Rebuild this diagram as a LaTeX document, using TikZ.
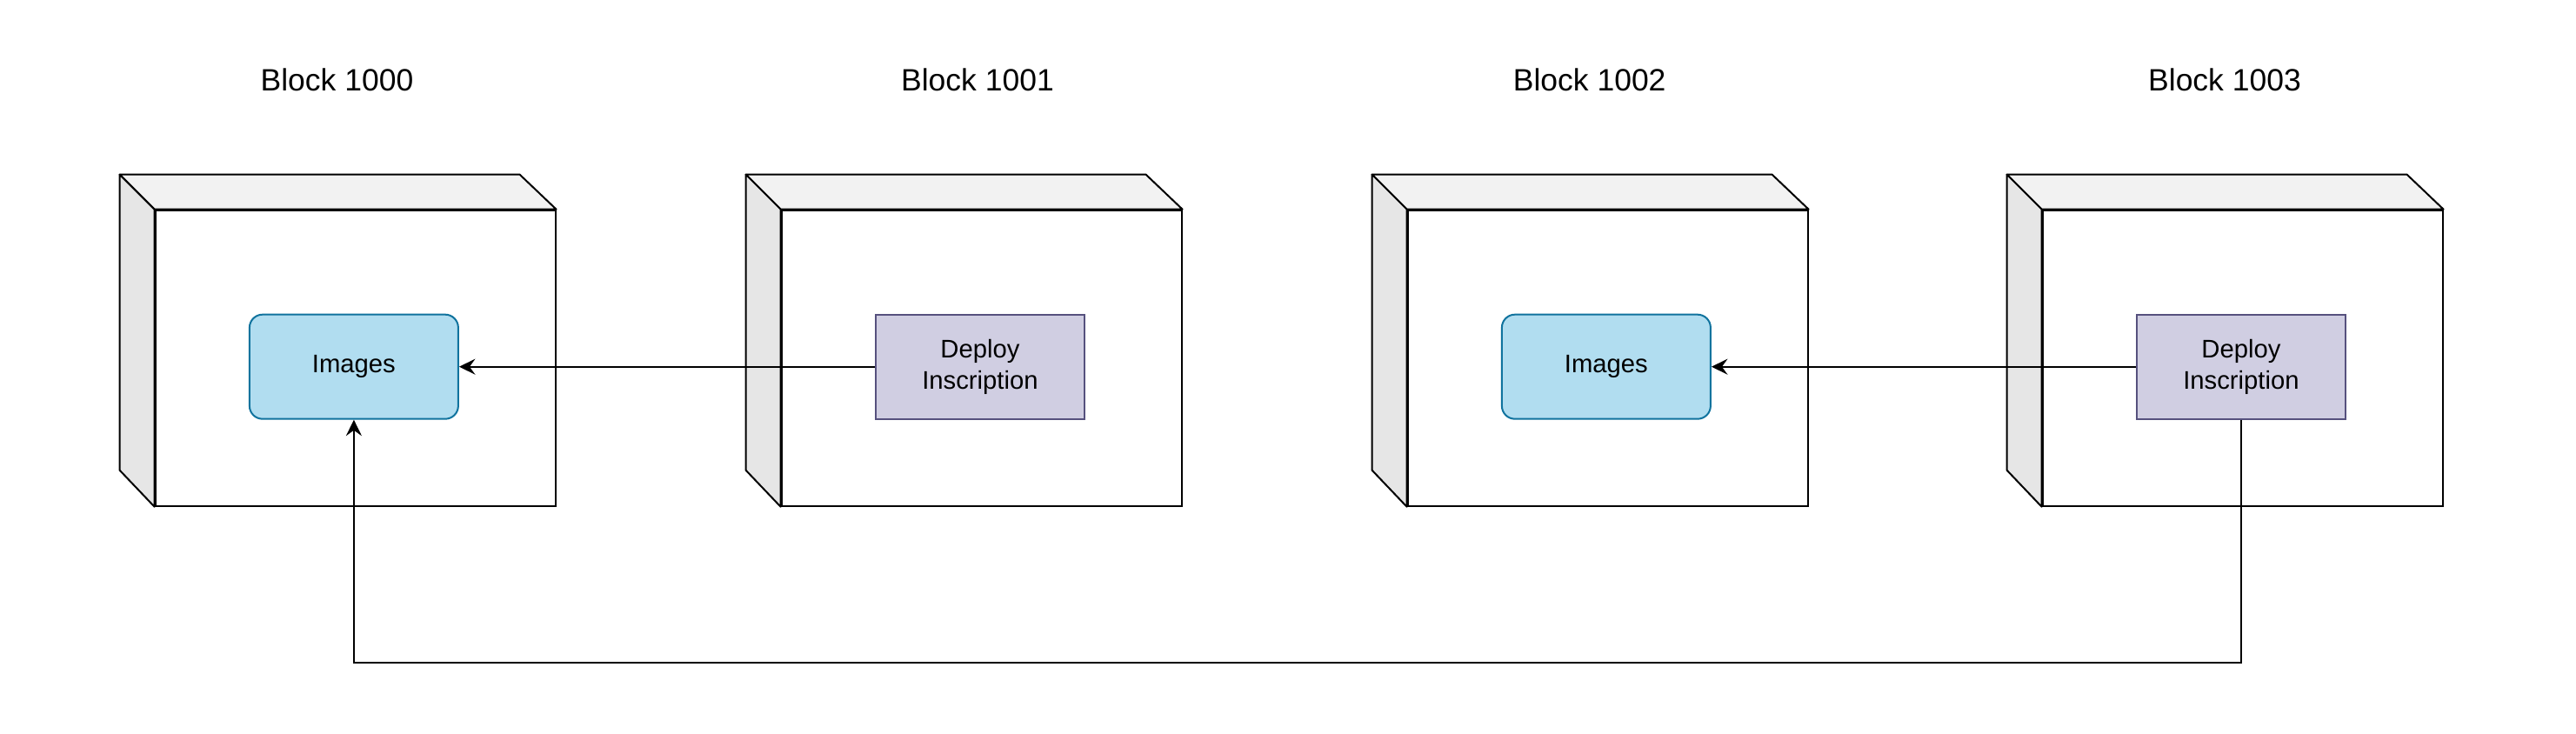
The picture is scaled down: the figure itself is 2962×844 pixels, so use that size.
\documentclass[tikz,border=0pt]{standalone}
\usepackage{fontspec}
\setmainfont{Liberation Sans}
\usepackage{xcolor}
\definecolor{imgfill}{RGB}{177,221,240}
\definecolor{imgdraw}{RGB}{16,115,158}
\definecolor{depfill}{RGB}{208,206,226}
\definecolor{depdraw}{RGB}{86,81,126}
\definecolor{topgray}{RGB}{242,242,242}
\definecolor{sidegray}{RGB}{230,230,230}
\usepackage{tikz}
\usetikzlibrary{calc}
\usetikzlibrary{arrows.meta}
\newcommand{\widthbox}{184pt}
\newcommand{\heightbox}{136pt}
\newcommand{\depthbox}{16pt}
\newcommand{\widthitem}{96pt}
\newcommand{\heightitem}{48pt}
\tikzset{
    common/.style={draw, rectangle, line width=0.8pt, align=center, font=\fontsize{11.7}{14.6}\selectfont},
    front/.style={common, fill=white, minimum width=\widthbox, minimum height=\heightbox},
    item/.style={common, minimum width=\widthitem, minimum height=\heightitem, inner sep=0pt},
    images/.style={item, rounded corners=6pt, fill=imgfill, draw=imgdraw},
    deploy/.style={item, fill=depfill, draw=depdraw},
    title/.style={font=\fontsize{14.2}{17}\selectfont},
    topface/.style={fill=topgray, draw, line width=0.8pt, line join=round},
    sideface/.style={fill=sidegray, draw, line width=0.8pt, line join=round},
    >={Stealth[length=7.4pt, width=7.2pt, inset=2.6pt]}
}

\begin{document}
\begin{tikzpicture}[x=0.4pt, y=-0.4pt]
        \useasboundingbox (0,0) rectangle (2962,844);

        \path
            (408.6,411.7) node[front] (B0) {}
            ++(720,0) node[front] (B1) {}
            ++(720,0) node[front] (B2) {}
            ++(730,0) node[front] (B3) {};

        \path[topface]
            (B0.north west) -- ++(-\depthbox,\depthbox) -- ++(\widthbox,0pt) -- (B0.north east) -- cycle
            (B1.north west) -- ++(-\depthbox,\depthbox) -- ++(\widthbox,0pt) -- (B1.north east) -- cycle
            (B2.north west) -- ++(-\depthbox,\depthbox) -- ++(\widthbox,0pt) -- (B2.north east) -- cycle
            (B3.north west) -- ++(-\depthbox,\depthbox) -- ++(\widthbox,0pt) -- (B3.north east) -- cycle;

        \path[sideface]
            (B0.north west) -- ++(-\depthbox,\depthbox) -- ++(0pt,-\heightbox) -- (B0.south west) -- cycle
            (B1.north west) -- ++(-\depthbox,\depthbox) -- ++(0pt,-\heightbox) -- (B1.south west) -- cycle
            (B2.north west) -- ++(-\depthbox,\depthbox) -- ++(0pt,-\heightbox) -- (B2.south west) -- cycle
            (B3.north west) -- ++(-\depthbox,\depthbox) -- ++(0pt,-\heightbox) -- (B3.south west) -- cycle;

        \path
            (387.5,92) node[title] (T0) {Block 1000}
            (1124,92) node[title] (T1) {Block 1001}
            (1827.7,92) node[title] (T2) {Block 1002}
            (2558,92) node[title] (T3) {Block 1003};

        \path
            (406.9,421.7) node[images] (I0) {Images}
            ++(720,0) node[deploy] (D1) {Deploy\\Inscription}
            ++(720,0) node[images] (I2) {Images}
            ++(730,0) node[deploy] (D3) {Deploy\\Inscription};

        \coordinate (back) at (406.9,761.7);

        \draw[->, line width=0.8pt]
          (D1) -- (I0);
        \draw[->, line width=0.8pt]
          (D3) -- (I2);
        \draw[->, line width=0.8pt]
          (D3.south) |- (back) -- (I0.south);
    \end{tikzpicture}
\end{document}
